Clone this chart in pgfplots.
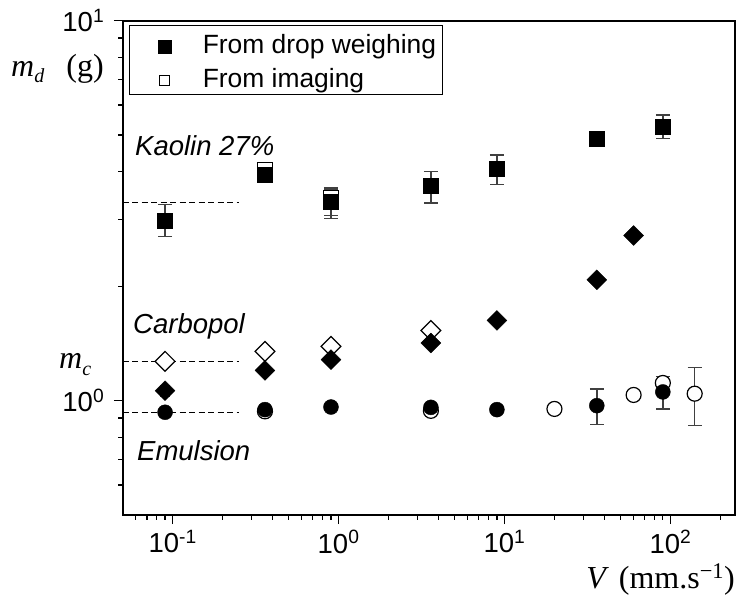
\documentclass[border=0pt]{standalone}
\usepackage{fontspec}
\setmainfont{Liberation Sans}
\newfontfamily\timesfont{Liberation Serif}
\usepackage{pgfplots}
\pgfplotsset{compat=1.18}

\begin{document}
\begin{tikzpicture}
\begin{axis}[
  at={(122.7pt,-515pt)}, anchor=south west,
  scale only axis, width=612.3pt, height=494.3pt,
  xmode=log, ymode=log,
  xmin=0.05, xmax=245, ymin=0.5, ymax=10,
  xtick={0.1,1,10,100},
  xticklabels={{10\textsuperscript{-1}},{10\textsuperscript{0}},{10\textsuperscript{1}},{10\textsuperscript{2}}},
  minor xtick={0.06,0.07,0.08,0.09,0.2,0.3,0.4,0.5,0.6,0.7,0.8,0.9,2,3,4,5,6,7,8,9,20,30,40,50,60,70,80,90,200},
  ytick={1,10},
  yticklabels={{10\textsuperscript{0}},{10\textsuperscript{1}}},
  minor ytick={0.6,0.7,0.8,0.9,2,3,4,5,6,7,8,9},
  tick align=outside, tick pos=left,
  major tick length=9pt, minor tick length=4.5pt,
  every tick/.style={black, line width=1.2pt},
  axis line style={line width=1.8pt},
  /pgf/number format/assume math mode=true,
  tick label style={font=\fontsize{27.5}{30}\selectfont, black},
  xticklabel style={yshift=-3pt},
  yticklabel style={xshift=-6pt},
  legend style={at={(0.0108,0.9913)}, anchor=north west,
    draw=black, line width=1pt, fill=white,
    inner xsep=3pt, inner ysep=2pt, row sep=1.5pt, column sep=0pt,
    font=\fontsize{26.4}{30}\selectfont,
    cells={anchor=base west},
    nodes={inner xsep=3.5pt, inner ysep=0pt, text height=26.3pt, text depth=5.6pt}},
  legend image code/.code={\path (-31pt,0pt) (34.5pt,0pt); \draw[#1] plot coordinates {(0pt,7pt)};},
]
% legend
\addlegendimage{only marks, mark=square*, mark size=6.5pt, mark options={fill=black, draw=black, line width=0.5pt}}
\addlegendentry{From drop weighing}
\addlegendimage{only marks, mark=square*, mark size=5pt, mark options={fill=white, draw=black, line width=1pt}}
\addlegendentry{From imaging}

% dashed reference lines
\addplot[forget plot, black, line width=1.2pt, dash pattern=on 6pt off 3.5pt] coordinates {(0.05,3.32) (0.25,3.32)};
\addplot[forget plot, black, line width=1.2pt, dash pattern=on 6pt off 3.5pt] coordinates {(0.05,1.269) (0.25,1.269)};
\addplot[forget plot, black, line width=1.2pt, dash pattern=on 6pt off 3.5pt] coordinates {(0.05,0.932) (0.25,0.932)};

% ---- Kaolin 27% ----
% imaging (open squares)
\addplot[forget plot, only marks, mark=square*, mark size=7.5pt, mark options={fill=white, draw=black, line width=1.2pt}] coordinates {(0.36,4.05)};
\addplot[forget plot, only marks, mark=square*, mark size=7.5pt, mark options={fill=white, draw=black, line width=1.2pt},
  error bars/.cd, y dir=both, y explicit,
  error bar style={black!75, line width=1.4pt},
  error mark options={rotate=90, mark size=7pt, black!75, line width=1.4pt}]
  coordinates {(0.9,3.41) += (0,0.22) -= (0,0.39)};
% drop weighing (filled squares)
\addplot[forget plot, only marks, mark=square*, mark size=7.5pt, mark options={fill=black, draw=black}] coordinates {(0.36,3.93) (36,4.88)};
\addplot[forget plot, only marks, mark=square*, mark size=7.5pt, mark options={fill=black, draw=black},
  error bars/.cd, y dir=both, y explicit,
  error bar style={black!75, line width=1.4pt},
  error mark options={rotate=90, mark size=7pt, black!75, line width=1.4pt}]
  coordinates {
  (0.09,2.97) += (0,0.31) -= (0,0.27)
  (0.9,3.34) += (0,0.25) -= (0,0.27)
  (3.6,3.67) += (0,0.34) -= (0,0.36)
  (9,4.07) += (0,0.36) -= (0,0.37)
  (90,5.26) += (0,0.39) -= (0,0.37)
  };

% ---- Carbopol ----
\addplot[forget plot, only marks, mark=square*, mark size=7pt, mark options={rotate=45, fill=white, draw=black, line width=1.2pt}] coordinates {(0.09,1.269) (0.36,1.348) (0.9,1.389) (3.6,1.53)};
\addplot[forget plot, only marks, mark=square*, mark size=7pt, mark options={rotate=45, fill=black, draw=black}] coordinates {(0.36,1.201) (0.9,1.282) (3.6,1.418) (9,1.626) (36,2.08) (60,2.72)};
\addplot[forget plot, only marks, mark=square*, mark size=7pt, mark options={rotate=45, fill=black, draw=black},
  error bars/.cd, y dir=both, y explicit,
  error bar style={black!75, line width=1.4pt},
  error mark options={rotate=90, mark size=5pt, black!75, line width=1.4pt}]
  coordinates {(0.09,1.062) += (0,0.035) -= (0,0.035)};

% ---- Emulsion ----
\addplot[forget plot, only marks, mark=*, mark size=7.5pt, mark options={fill=white, draw=black, line width=1.2pt}] coordinates {(0.36,0.937) (3.6,0.94) (20,0.951) (60,1.035) (90,1.113)};
\addplot[forget plot, only marks, mark=*, mark size=7.5pt, mark options={fill=white, draw=black, line width=1.2pt},
  error bars/.cd, y dir=both, y explicit,
  error bar style={black!75, line width=1.4pt},
  error mark options={rotate=90, mark size=7pt, black!75, line width=1.4pt}]
  coordinates {(140,1.043) += (0,0.181) -= (0,0.182)};
\addplot[forget plot, only marks, mark=*, mark size=7.5pt, mark options={fill=black, draw=black}] coordinates {(0.09,0.932) (0.36,0.947) (0.9,0.962) (3.6,0.960) (9,0.947)};
\addplot[forget plot, only marks, mark=*, mark size=7.5pt, mark options={fill=black, draw=black},
  error bars/.cd, y dir=both, y explicit,
  error bar style={black!75, line width=1.4pt},
  error mark options={rotate=90, mark size=7pt, black!75, line width=1.4pt}]
  coordinates {(36,0.970) += (0,0.103) -= (0,0.105) (90,1.054) += (0,0.104) -= (0,0.103)};
\end{axis}

% annotations
\node[anchor=base west, inner sep=0pt, font=\fontsize{27.5}{30}\selectfont\itshape] at (135pt,-155pt) {Kaolin 27\%};
\node[anchor=base west, inner sep=0pt, font=\fontsize{27.5}{30}\selectfont\itshape] at (133pt,-333pt) {Carbopol};
\node[anchor=base west, inner sep=0pt, font=\fontsize{27.5}{30}\selectfont\itshape] at (137pt,-460pt) {Emulsion};

% axis labels
\node[anchor=base west, inner sep=0pt, font=\timesfont\fontsize{32}{34}\selectfont] at (11pt,-77pt)
  {\textit{m}\raisebox{-6pt}{\fontsize{20}{20}\selectfont\textit{d}}\hspace{22pt}(g)};
\node[anchor=base west, inner sep=0pt, font=\timesfont\fontsize{32}{34}\selectfont] at (59pt,-368pt)
  {\textit{m}\raisebox{-7pt}{\fontsize{20}{20}\selectfont\textit{c}}};
\node[anchor=base east, inner sep=0pt, font=\timesfont\fontsize{32}{34}\selectfont] at (735pt,-588pt)
  {\textit{V}\hspace{10pt}(mm.s\textsuperscript{−1})};

\pgfresetboundingbox
\path (0pt,0pt) rectangle (736pt,-599pt);
\end{tikzpicture}
\end{document}
